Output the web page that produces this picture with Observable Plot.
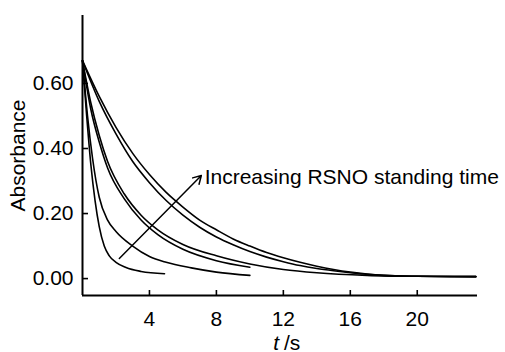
<!DOCTYPE html>
<html><head><meta charset="utf-8">
<script src="https://cdn.jsdelivr.net/npm/d3@7"></script>
<script src="https://cdn.jsdelivr.net/npm/@observablehq/plot@0.6"></script>
<style>body{margin:0;background:#fff}</style>
</head><body><div id="chart"></div>
<script>
const xTicks = [4, 8, 12, 16, 20];
const yTicks = [0, 0.2, 0.4, 0.6];

// curves, fastest (A) to slowest (F)
const tA = [0, 0.25, 0.5, 0.75, 1.0, 1.3, 1.6, 2.0, 2.6, 3.5, 4.9];
const vA = [0.67, 0.50, 0.35, 0.24, 0.16, 0.10, 0.07, 0.05, 0.034, 0.022, 0.015];
const tB = [0, 0.3, 0.6, 1.0, 1.5, 2.0, 3.0, 4.0, 5.0, 6.5, 8.0, 10];
const vB = [0.67, 0.50, 0.37, 0.25, 0.18, 0.145, 0.10, 0.068, 0.05, 0.033, 0.02, 0.01];
const tC = [0, 0.5, 1.0, 1.5, 2.5, 3.5, 4.5, 6, 8, 10];
const vC = [0.67, 0.52, 0.42, 0.34, 0.245, 0.18, 0.135, 0.09, 0.055, 0.035];
const tD = [0, 0.5, 1.0, 1.5, 2.5, 3.5, 4.5, 6, 8, 10, 12, 14, 17, 20, 23.5];
const vD = [0.67, 0.54, 0.44, 0.36, 0.26, 0.195, 0.15, 0.105, 0.07, 0.045, 0.028, 0.018, 0.01, 0.007, 0.006];
const tE = [0, 1, 2, 3, 4, 5, 6, 7, 8, 9, 10, 11, 12, 13, 14, 15, 16, 17, 18, 20, 22, 23.5];
const vE = [0.67, 0.56, 0.465, 0.385, 0.32, 0.265, 0.22, 0.18, 0.15, 0.122, 0.10, 0.08, 0.064, 0.05, 0.038, 0.028, 0.02, 0.014, 0.01, 0.007, 0.006, 0.006];
const tF = [0, 1, 2, 3, 4, 5, 6, 7, 8, 9, 10, 11, 12, 13, 14, 15, 16, 17, 18, 20, 23.5];
const vF = [0.67, 0.545, 0.445, 0.36, 0.295, 0.24, 0.195, 0.158, 0.128, 0.104, 0.083, 0.066, 0.052, 0.04, 0.031, 0.024, 0.018, 0.013, 0.01, 0.007, 0.006];

const arrowStart = {t: 2.2, v: 0.062};
const arrowEnd = {t: 7.1, v: 0.317};
const arrowLabel = "Increasing RSNO standing time";
const xLabelItalic = "t";
const xLabelRest = "/s";
const yLabel = "Absorbance";

const series = [["A", tA, vA], ["B", tB, vB], ["C", tC, vC], ["D", tD, vD], ["E", tE, vE], ["F", tF, vF]];
const rows = series.flatMap(([k, ts, vs]) => ts.map((t, i) => ({k, t, v: vs[i]})));

const FONT = "'Liberation Sans', Arial, Helvetica, sans-serif";
const FS = 21;

const chart = Plot.plot({
  width: 505, height: 352,
  marginLeft: 82, marginRight: 28, marginTop: 15, marginBottom: 57,
  style: {fontFamily: FONT, fontSize: FS + "px", color: "#000", background: "#fff"},
  x: {domain: [0, 23.6]},
  y: {domain: [-0.052, 0.809]},
  marks: [
    Plot.ruleX([0], {stroke: "#000", strokeWidth: 2}),
    Plot.ruleY([-0.052], {stroke: "#000", strokeWidth: 2}),
    Plot.axisY({ticks: yTicks, tickSize: -6, tickFormat: () => "", strokeWidth: 1.6, label: null}),
    Plot.axisY({ticks: yTicks, tickSize: 0, tickPadding: 9, tickFormat: d3.format(".2f"), label: null, fontSize: FS}),
    Plot.axisX({ticks: xTicks, tickSize: -5, tickFormat: () => "", strokeWidth: 1.6, label: null}),
    Plot.axisX({ticks: xTicks, tickSize: 0, tickPadding: 16, label: null, fontSize: FS}),
    Plot.line(rows, {x: "t", y: "v", z: "k", stroke: "#000", strokeWidth: 1.6, curve: "monotone-x"}),
    Plot.arrow([{}], {x1: () => arrowStart.t, y1: () => arrowStart.v, x2: () => arrowEnd.t, y2: () => arrowEnd.v, stroke: "#000", strokeWidth: 1.5, headLength: 9}),
    Plot.text([arrowLabel], {x: () => arrowEnd.t + 0.2, y: () => arrowEnd.v - 0.005, text: d => d, textAnchor: "start", fontSize: FS}),
    Plot.text([yLabel], {frameAnchor: "left", text: d => d, rotate: -90, dx: -64, textAnchor: "middle", fontSize: FS}),
    Plot.text([xLabelItalic], {frameAnchor: "bottom", text: d => d, dy: 54, dx: -1, textAnchor: "end", fontStyle: "italic", fontSize: FS}),
    Plot.text([xLabelRest], {frameAnchor: "bottom", text: d => d, dy: 54, dx: 4, textAnchor: "start", fontSize: FS})
  ]
});
document.getElementById("chart").appendChild(chart);
</script>
</body></html>
